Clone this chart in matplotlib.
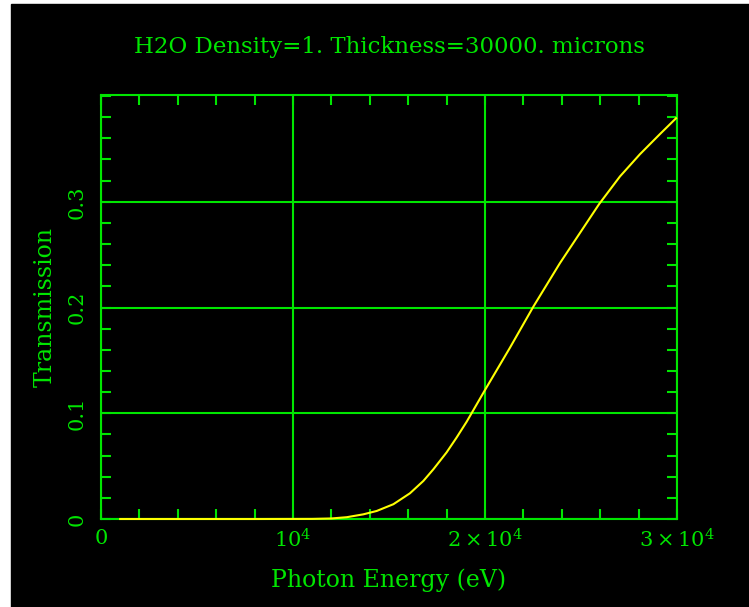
import matplotlib
matplotlib.use('Agg')
import matplotlib.pyplot as plt
from matplotlib.patches import Rectangle

# values
energy = [1000, 4000, 8000, 11000, 12000, 12800, 13660, 14360, 15230, 16090,
          16790, 17310, 18000, 18520, 19045, 20000, 20260, 21300, 22520,
          23900, 24780, 25950, 27030, 28070, 29110, 29950]
trans = [0.0, 0.0, 0.0, 0.0001, 0.0005, 0.0017, 0.0044, 0.0076, 0.0140, 0.0243,
         0.0360, 0.0470, 0.0630, 0.0770, 0.0920, 0.1220, 0.1300, 0.1620, 0.2009,
         0.2419, 0.2660, 0.2980, 0.3240, 0.3450, 0.3640, 0.379]

xticks = [0, 10000, 20000, 30000]
xticklabels = ['0', r'$10^4$', r'$2\times10^4$', r'$3\times10^4$']
yticks = [0, 0.1, 0.2, 0.3]
yticklabels = ['0', '0.1', '0.2', '0.3']

green = '#00e600'
yellow = '#ffff00'

plt.rcParams['font.family'] = ['DejaVu Serif']
plt.rcParams['mathtext.fontset'] = 'dejavuserif'

W, H = 749, 607
fig = plt.figure(figsize=(W / 100, H / 100), dpi=100, facecolor='white')
fig.patches.append(Rectangle((11 / W, 0), (W - 11) / W, (H - 4) / H,
                             transform=fig.transFigure, color='black', zorder=-10))

ax = fig.add_axes([101 / W, 1 - 519 / H, 576 / W, 424 / H])
ax.set_facecolor('black')

ax.plot(energy, trans, color=yellow, lw=1.5, zorder=5, clip_on=False)

ax.set_xlim(0, 30000)
ax.set_ylim(0, 0.401)
ax.set_xticks(xticks)
ax.set_xticklabels(xticklabels)
ax.set_yticks(yticks)
ax.set_yticklabels(yticklabels, rotation=90, va='center')
ax.set_xticks(range(0, 30001, 2000), minor=True)
ax.set_yticks([i * 0.02 for i in range(21)], minor=True)

ax.grid(which='major', color=green, lw=1.5)
ax.tick_params(which='both', direction='in', top=True, right=True,
               color=green, width=1.5, labelcolor=green, labelsize=15)
ax.tick_params(which='major', length=7)
ax.tick_params(which='minor', length=7)
ax.tick_params(axis='x', pad=7)
ax.tick_params(axis='y', pad=10)
for s in ax.spines.values():
    s.set_color(green)
    s.set_linewidth(1.5)

ax.set_title('H2O Density=1. Thickness=30000. microns', color=green,
             fontsize=16.5, pad=30)
ax.set_xlabel('Photon Energy (eV)', color=green, fontsize=17, labelpad=12)
ax.set_ylabel('Transmission', color=green, fontsize=17, labelpad=8)

fig.savefig('out.png', dpi=100, facecolor='white')
